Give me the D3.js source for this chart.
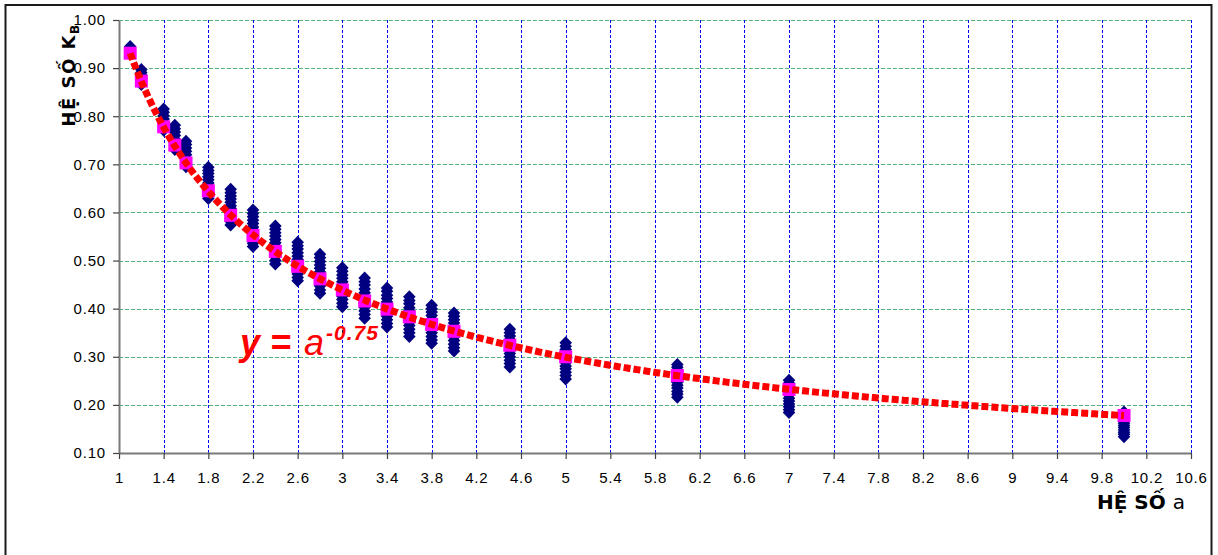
<!DOCTYPE html>
<html>
<head>
<meta charset="utf-8">
<script src="https://cdn.jsdelivr.net/npm/d3@7"></script>
<style>
  html, body { margin: 0; padding: 0; background: #ffffff; }
  svg { display: block; }
</style>
</head>
<body>
<svg id="chart" width="1218" height="555"></svg>
<script>
// Coefficient a (x) for each group of computed K_B values
const aValues = [1.1, 1.2, 1.4, 1.5, 1.6, 1.8, 2.0, 2.2, 2.4, 2.6, 2.8, 3.0, 3.2, 3.4, 3.6, 3.8, 4.0, 4.5, 5, 6, 7, 10];

// Computed K_B values for each a
const kbSamples = [
  [0.945, 0.940, 0.935, 0.930],
  [0.897, 0.891, 0.885, 0.879, 0.873, 0.866],
  [0.815, 0.808, 0.801, 0.794, 0.786, 0.778, 0.771],
  [0.781, 0.774, 0.767, 0.760, 0.752, 0.745, 0.738, 0.731],
  [0.748, 0.741, 0.734, 0.727, 0.720, 0.712, 0.705, 0.698, 0.695],
  [0.694, 0.687, 0.681, 0.674, 0.668, 0.661, 0.655, 0.648, 0.642, 0.635, 0.629],
  [0.648, 0.641, 0.634, 0.628, 0.621, 0.614, 0.608, 0.601, 0.594, 0.587, 0.581, 0.574],
  [0.605, 0.598, 0.591, 0.584, 0.577, 0.570, 0.564, 0.557, 0.550, 0.543, 0.536, 0.529],
  [0.572, 0.565, 0.558, 0.551, 0.544, 0.537, 0.530, 0.522, 0.515, 0.508, 0.500, 0.493],
  [0.538, 0.531, 0.524, 0.516, 0.509, 0.502, 0.494, 0.487, 0.480, 0.472, 0.465, 0.458],
  [0.513, 0.506, 0.498, 0.491, 0.484, 0.476, 0.469, 0.462, 0.454, 0.447, 0.439, 0.432],
  [0.485, 0.478, 0.470, 0.463, 0.456, 0.448, 0.441, 0.434, 0.426, 0.419, 0.411, 0.404],
  [0.464, 0.456, 0.449, 0.441, 0.433, 0.426, 0.418, 0.411, 0.403, 0.395, 0.388, 0.380],
  [0.443, 0.436, 0.428, 0.421, 0.414, 0.406, 0.399, 0.392, 0.384, 0.377, 0.369, 0.362],
  [0.425, 0.417, 0.410, 0.402, 0.395, 0.387, 0.380, 0.372, 0.365, 0.357, 0.350, 0.342],
  [0.407, 0.400, 0.393, 0.386, 0.378, 0.371, 0.364, 0.357, 0.350, 0.342, 0.335, 0.328],
  [0.391, 0.384, 0.377, 0.370, 0.362, 0.355, 0.348, 0.341, 0.334, 0.326, 0.319, 0.312],
  [0.357, 0.350, 0.343, 0.336, 0.329, 0.322, 0.314, 0.307, 0.300, 0.293, 0.286, 0.279],
  [0.329, 0.322, 0.315, 0.309, 0.302, 0.295, 0.288, 0.281, 0.275, 0.268, 0.261, 0.254],
  [0.284, 0.278, 0.272, 0.266, 0.259, 0.253, 0.247, 0.241, 0.235, 0.228, 0.222, 0.216],
  [0.251, 0.245, 0.239, 0.233, 0.227, 0.221, 0.214, 0.208, 0.202, 0.196, 0.190, 0.184],
  [0.185, 0.180, 0.176, 0.171, 0.166, 0.162, 0.157, 0.153, 0.148, 0.143, 0.139, 0.134]
];

// Average K_B for each a
const kbMean = [0.931, 0.873, 0.778, 0.740, 0.703, 0.645, 0.594, 0.552, 0.519, 0.488, 0.462,
                0.439, 0.416, 0.399, 0.383, 0.367, 0.353, 0.324, 0.300, 0.261, 0.232, 0.178];

// Fitted power law y = a^k
const trendExponent = -0.75;
const trendRange = [1.1, 10];

// Axis ticks
const xTicks = [1, 1.4, 1.8, 2.2, 2.6, 3, 3.4, 3.8, 4.2, 4.6, 5, 5.4, 5.8, 6.2, 6.6, 7, 7.4, 7.8, 8.2, 8.6, 9, 9.4, 9.8, 10.2, 10.6];
const yTicks = [0.10, 0.20, 0.30, 0.40, 0.50, 0.60, 0.70, 0.80, 0.90, 1.00];

const svg = d3.select("#chart");

// Outer chart frame
svg.append("rect")
  .attr("x", 5.5).attr("y", 5).attr("width", 1206).attr("height", 600)
  .attr("fill", "#ffffff").attr("stroke", "#1a1a1a").attr("stroke-width", 2);

const x = d3.scaleLinear().domain([1, 10.6]).range([119, 1191]);
const y = d3.scaleLinear().domain([0.1, 1.0]).range([453, 20]);

// Gridlines
const grid = svg.append("g");
grid.selectAll("line.h").data(yTicks.slice(1)).join("line")
  .attr("x1", x(1)).attr("x2", x(10.6))
  .attr("y1", d => Math.round(y(d)) + 0.5).attr("y2", d => Math.round(y(d)) + 0.5)
  .attr("stroke", "#52b27e").attr("stroke-width", 1).attr("stroke-dasharray", "4,2");
grid.selectAll("line.v").data(xTicks.slice(1)).join("line")
  .attr("y1", y(1.0)).attr("y2", y(0.1))
  .attr("x1", d => Math.round(x(d)) + 0.5).attr("x2", d => Math.round(x(d)) + 0.5)
  .attr("stroke", "#0000ff").attr("stroke-width", 1).attr("stroke-dasharray", "3,2");

// Axes
const xAxis = svg.append("g").attr("transform", `translate(0,${y(0.1)})`)
  .call(d3.axisBottom(x).tickValues(xTicks).tickFormat(d => String(d)).tickSize(6).tickSizeOuter(0).tickPadding(13));
const yAxis = svg.append("g").attr("transform", `translate(${x(1)},0)`)
  .call(d3.axisLeft(y).tickValues(yTicks).tickFormat(d3.format(".2f")).tickSize(6).tickSizeOuter(0).tickPadding(7));
[xAxis, yAxis].forEach(g => {
  g.attr("font-family", null).attr("font-size", null);
  g.select(".domain").attr("stroke", "#7a7a7a").attr("stroke-width", 2);
  g.selectAll(".tick line").attr("stroke", "#444").attr("stroke-width", 1.2);
  g.selectAll(".tick text")
    .attr("font-family", "'Liberation Sans', Arial, sans-serif")
    .attr("font-size", 15)
    .attr("letter-spacing", "0.8px")
    .attr("fill", "#000");
});

// Computed values: navy diamonds
const diamond = "M0,-6.5L6.3,0L0,6.5L-6.3,0Z";
const points = aValues.flatMap((a, i) => kbSamples[i].map(v => ({ a, v })));
svg.append("g").selectAll("path").data(points).join("path")
  .attr("d", diamond)
  .attr("transform", d => `translate(${x(d.a)},${y(d.v)})`)
  .attr("fill", "#000080");

// Averages: magenta squares
svg.append("g").selectAll("rect").data(aValues.map((a, i) => ({ a, v: kbMean[i] }))).join("rect")
  .attr("x", d => x(d.a) - 6.5).attr("y", d => y(d.v) - 6.5)
  .attr("width", 13).attr("height", 13)
  .attr("fill", "#ff00ff");

// Power-law fit, square-dotted red line
const fitPts = d3.range(0, 401).map(i => {
  const a = trendRange[0] + (trendRange[1] - trendRange[0]) * i / 400;
  return [a, Math.pow(a, trendExponent)];
});
svg.append("path")
  .datum(fitPts)
  .attr("d", d3.line().x(d => x(d[0])).y(d => y(d[1])))
  .attr("fill", "none").attr("stroke", "#ff0000")
  .attr("stroke-width", 7).attr("stroke-dasharray", "7,3");

// Equation label
const eq = svg.append("text")
  .attr("x", 240).attr("y", 355)
  .attr("fill", "#ff0000")
  .attr("font-family", "'Liberation Sans', Arial, sans-serif")
  .attr("font-style", "italic");
eq.append("tspan").attr("font-size", 36).attr("font-weight", "bold").text("y = ");
eq.append("tspan").attr("font-size", 36).attr("font-weight", "normal").attr("dx", 3).text("a");
eq.append("tspan").attr("font-size", 21).attr("font-weight", "bold")
  .attr("dy", -15).attr("dx", 2).attr("letter-spacing", "1px").text(String(trendExponent));

// Y-axis title: HỆ SỐ K_B
const yTitle = svg.append("text")
  .attr("transform", "translate(75,75) rotate(-90)")
  .attr("text-anchor", "middle")
  .attr("font-family", "'DejaVu Sans', Verdana, sans-serif")
  .attr("font-weight", "bold")
  .attr("font-size", 18)
  .attr("letter-spacing", "1.5px")
  .attr("fill", "#000");
yTitle.append("tspan").text("HỆ SỐ K");
yTitle.append("tspan").attr("font-size", 12).attr("dy", 4).text("B");

// X-axis title: HỆ SỐ a
const xTitle = svg.append("text")
  .attr("x", 1097).attr("y", 509)
  .attr("font-family", "'DejaVu Sans', Verdana, sans-serif")
  .attr("font-size", 20)
  .attr("fill", "#000");
xTitle.append("tspan").attr("font-weight", "bold").text("HỆ SỐ ");
xTitle.append("tspan").attr("font-weight", "normal").text("a");
</script>
</body>
</html>
